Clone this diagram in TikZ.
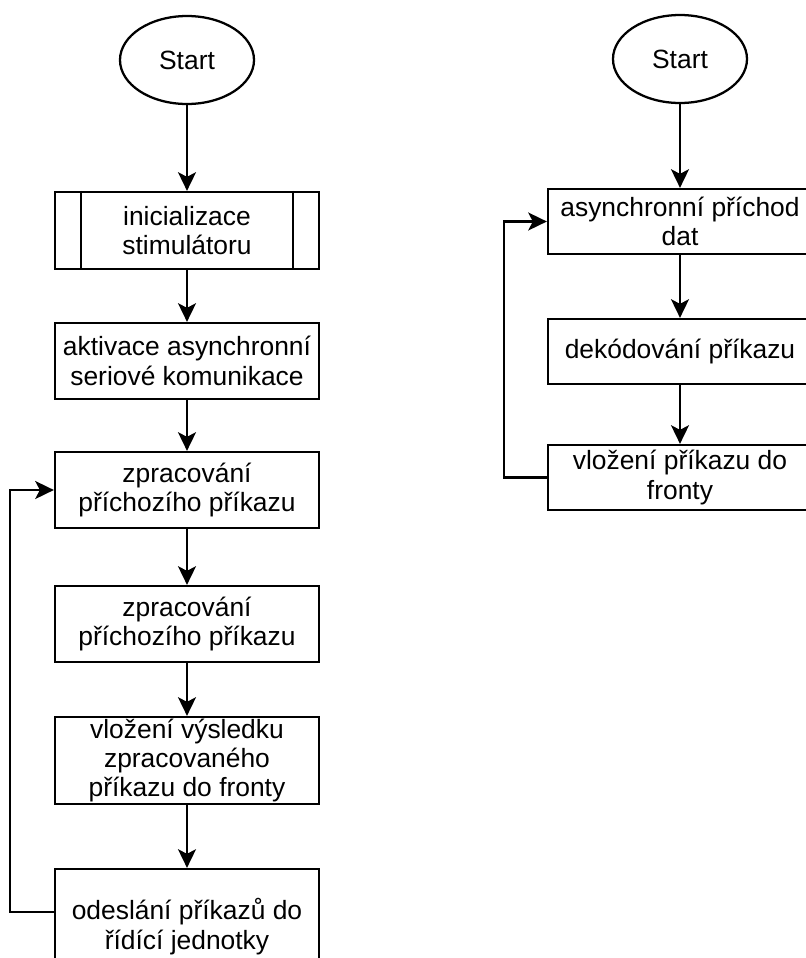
\documentclass[tikz,border=0pt]{standalone}
\usepackage{fontspec}
\setmainfont{Liberation Sans}
\usetikzlibrary{shapes.geometric,arrows.meta}
\begin{document}
\begin{tikzpicture}[x=0.75pt,y=-0.75pt,
  line width=1.7pt,
  base/.style={draw, line width=1.7pt, align=center, inner sep=0pt,
    font=\fontsize{19.8pt}{22pt}\selectfont},
  terminal/.style={base, ellipse, minimum width=100.5pt, minimum height=66pt},
  procbox/.style={base, rectangle, minimum width=198pt},
  flow/.style={-{Stealth[length=14pt,width=13.5pt,inset=3.5pt]}, line width=1.7pt},
]
\useasboundingbox (0,0) rectangle (806,958);
\clip (0,0) rectangle (806,958);

% main program
\node[terminal] (s1) at (187,60) {Start};
\node[procbox, minimum height=57.75pt] (b1) at (187,230.5) {inicializace\\stimulátoru};
\draw ([xshift=20.25pt]b1.north west) -- ([xshift=20.25pt]b1.south west);
\draw ([xshift=-20.25pt]b1.north east) -- ([xshift=-20.25pt]b1.south east);
\node[procbox, minimum height=57pt] (b2) at (187,361) {aktivace asynchronní\\seriové komunikace};
\node[procbox, minimum height=57pt] (b3) at (187,490) {zpracování\\příchozího příkazu};
\node[procbox, minimum height=57pt] (b4) at (187,624) {zpracování\\příchozího příkazu};
\node[procbox, minimum height=65.25pt] (b5) at (187,760.5) {vložení výsledku\\zpracovaného\\příkazu do fronty};
\node[procbox, minimum height=86.25pt] (b6) at (187,926.5) {odeslání příkazů do\\řídící jednotky};

\draw[flow] (s1) -- (b1);
\draw[flow] (b1) -- (b2);
\draw[flow] (b2) -- (b3);
\draw[flow] (b3) -- (b4);
\draw[flow] (b4) -- (b5);
\draw[flow] (b5) -- (b6);
\draw[flow] ([yshift=10.875pt]b6.west) -- ++(-44,0) |- (b3.west);

% interrupt routine
\node[terminal] (s2) at (680,59) {Start};
\node[procbox, minimum height=48.75pt] (r1) at (680,221.5) {asynchronní příchod\\dat};
\node[procbox, minimum height=48.75pt] (r2) at (680,351.5) {dekódování příkazu};
\node[procbox, minimum height=48.75pt] (r3) at (680,477.5) {vložení příkazu do\\fronty};

\draw[flow] (s2) -- (r1);
\draw[flow] (r1) -- (r2);
\draw[flow] (r2) -- (r3);
\draw[flow] (r3.west) -- ++(-43,0) |- (r1.west);
\end{tikzpicture}
\end{document}
